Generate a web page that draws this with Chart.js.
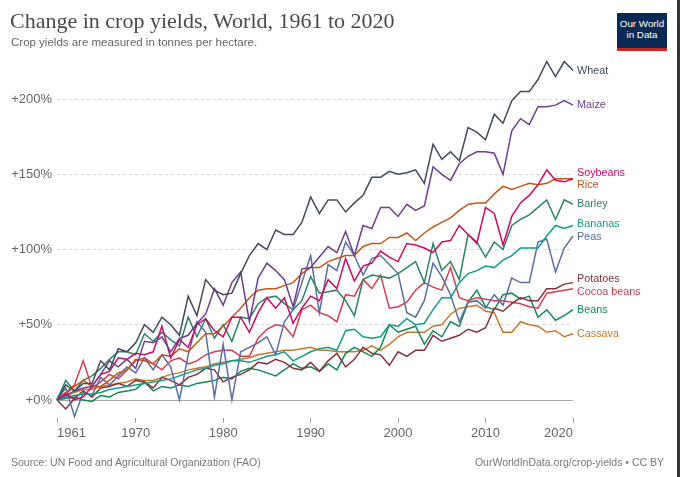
<!DOCTYPE html>
<html><head><meta charset="utf-8">
<script src="https://cdn.jsdelivr.net/npm/chart.js@4.4.1/dist/chart.umd.min.js"></script>
<style>
html,body{margin:0;padding:0;background:#fff;}
#wrap{position:relative;width:680px;height:477px;overflow:hidden;font-family:"Liberation Sans",Arial,sans-serif;}
#title{position:absolute;left:10px;top:8px;font-family:"Liberation Serif",serif;font-size:22px;color:#4a4a4a;white-space:nowrap;}
#sub{position:absolute;left:11px;top:36px;font-size:11.5px;color:#666;white-space:nowrap;}
#src{position:absolute;left:11px;top:456px;font-size:10.5px;color:#777;white-space:nowrap;}
#url{position:absolute;right:16px;top:456px;font-size:10.5px;color:#777;white-space:nowrap;}
#logo{position:absolute;left:617px;top:13px;width:50px;height:38px;background:#0b2a53;color:#fff;font-size:9.8px;line-height:10.5px;text-align:center;box-sizing:border-box;padding-top:6px;border-bottom:3px solid #ce261e;}
#edge{position:absolute;left:677px;top:0;width:3px;height:477px;background:#333;}
canvas{position:absolute;left:0;top:0;}
</style></head>
<body><div id="wrap">
<canvas id="c" width="680" height="477"></canvas>
<div id="title">Change in crop yields, World, 1961 to 2020</div>
<div id="sub">Crop yields are measured in tonnes per hectare.</div>
<div id="logo">Our World<br>in Data</div>
<div id="src">Source: UN Food and Agricultural Organization (FAO)</div>
<div id="url">OurWorldInData.org/crop-yields • CC BY</div>
<div id="edge"></div>
</div>
<script>
const years = [1961,1962,1963,1964,1965,1966,1967,1968,1969,1970,1971,1972,1973,1974,1975,1976,1977,1978,1979,1980,1981,1982,1983,1984,1985,1986,1987,1988,1989,1990,1991,1992,1993,1994,1995,1996,1997,1998,1999,2000,2001,2002,2003,2004,2005,2006,2007,2008,2009,2010,2011,2012,2013,2014,2015,2016,2017,2018,2019,2020];
const xTickYears = [1961,1970,1980,1990,2000,2010,2020];
const yTickValues = [0,50,100,150,200];

const wheat = [0,10,6,11,11,26,20,34,32,38, 50,45,55,50,43,69,56,80,73,70, 71,84,96,104,100,113,110,110,118,135, 124,133,133,125,131,136,148,148,152,150, 151,153,144,170,160,165,159,181,178,173, 190,184,199,205,205,213,225,215,225,219];
const maize = [0,3,6,8,9,17,26,22,27,21, 39,38,42,32,41,43,51,57,74,63, 78,85,52,81,91,86,80,62,87,88, 95,102,98,112,96,116,114,128,128,122, 130,126,129,155,150,146,157,162,165,165, 164,150,179,187,183,195,195,196,199,196];
const soybeans = [0,4,0,2,9,17,19,28,27,31, 30,32,49,28,40,35,50,54,46,42, 55,55,45,58,68,61,68,51,61,69, 66,80,74,94,79,89,91,99,95,92, 104,103,101,98,105,106,116,110,104,128, 124,103,122,131,136,143,153,146,145,147];
const rice = [0,4,9,13,9,9,13,18,20,27, 26,24,30,29,34,32,38,44,44,49, 55,61,68,73,74,74,76,78,84,88, 88,92,94,96,96,102,104,104,108,108, 111,106,111,115,118,121,126,130,131,131, 137,142,140,142,144,143,144,147,147,147];
const barley = [0,13,6,13,16,21,27,32,32,30, 44,39,45,40,36,55,42,54,41,50, 39,55,54,64,68,69,64,60,66,82, 71,72,73,66,56,80,83,82,81,84, 88,92,78,104,86,92,80,110,105,95, 105,100,116,120,123,128,133,120,133,130];
const bananas = [0,2,3,4,4,5,7,8,9,10, 11,12,13,14,16,18,20,21,23,24, 26,26,25,27,29,30,32,26,29,32, 34,35,33,46,47,42,41,42,50,49, 54,50,51,60,68,68,78,84,86,89, 88,93,96,101,101,101,109,116,114,116];
const peas = [0,8,-11,5,3,15,10,16,22,18, 28,20,30,22,0,30,52,45,2,37, 0,32,35,38,42,30,52,60,78,96, 58,90,86,105,96,83,94,96,90,84, 58,55,66,91,82,70,52,65,66,61, 70,63,81,78,78,105,107,85,101,109];
const potatoes = [0,-6,1,6,2,8,9,11,9,13, 12,8,15,13,10,15,17,21,20,12, 15,17,20,25,24,27,25,21,20,25, 19,26,31,22,27,35,31,30,23,32, 29,33,33,43,39,41,43,47,45,48, 61,59,64,68,66,66,74,74,77,78];
const cocoaBeans = [0,5,10,26,8,12,17,14,20,26, 28,24,20,26,28,24,26,30,32,33, 33,29,29,41,47,50,49,42,60,63, 58,56,52,70,69,80,74,83,61,62, 65,73,78,75,73,88,68,66,68,67, 66,66,65,64,62,61,71,72,73,74];
const beans = [0,1,2,0,-1,3,2,5,6,7, 12,6,9,8,10,9,11,12,13,15, 14,19,21,20,18,16,20,24,21,22, 19,24,20,31,35,32,29,35,50,45, 47,49,37,46,42,52,49,65,73,62, 60,70,71,67,69,55,60,53,56,60];
const cassava = [0,3,5,7,7,9,10,11,12,14, 13,13,15,17,18,20,21,22,24,25, 26,27,28,30,31,32,33,33,34,35, 33,33,32,32,32,33,36,33,37,42, 45,45,45,49,50,57,61,62,63,59, 58,45,45,52,50,49,45,46,42,44];

const seriesNames = ['Wheat','Maize','Soybeans','Rice','Barley','Bananas','Peas','Potatoes','Cocoa beans','Beans','Cassava'];
const seriesValues = [wheat,maize,soybeans,rice,barley,bananas,peas,potatoes,cocoaBeans,beans,cassava];
const seriesColors = ['#404b5c','#6d3e91','#cf0a66','#c05917','#2c8465','#109c8e','#5a6ea6','#883039','#d73c50','#138a55','#c8782e'];

const datasets = seriesNames.map((name,i)=>({
  label:name,
  data: years.map((yr,j)=>({x:yr,y:seriesValues[i][j]})),
  borderColor: seriesColors[i],
  backgroundColor: seriesColors[i],
  borderWidth: 1.5,
  pointRadius: 0,
  tension: 0,
  clip: false
}));

const zeroLine = {
  id:'zeroLine',
  beforeDatasetsDraw(chart){
    const {ctx, chartArea, scales} = chart;
    const y = Math.round(scales.y.getPixelForValue(0)) + 0.5;
    ctx.save();
    ctx.strokeStyle = '#a8a8a8';
    ctx.lineWidth = 1;
    ctx.beginPath(); ctx.moveTo(chartArea.left, y); ctx.lineTo(chartArea.right, y); ctx.stroke();
    ctx.restore();
  }
};

const endLabels = {
  id:'endLabels',
  afterDatasetsDraw(chart){
    const {ctx, chartArea} = chart;
    const items = chart.data.datasets.map((ds,i)=>{
      const meta = chart.getDatasetMeta(i);
      const pt = meta.data[meta.data.length-1];
      return {text: ds.label, color: ds.borderColor, y: pt.y};
    }).sort((a,b)=>a.y-b.y);
    const gap = 12.5;
    for (let iter=0; iter<50; iter++){
      let moved=false;
      for (let k=1;k<items.length;k++){
        const d = items[k].y - items[k-1].y;
        if (d < gap){
          const push = (gap-d)/2;
          items[k].y += push; items[k-1].y -= push; moved=true;
        }
      }
      if(!moved) break;
    }
    ctx.save();
    ctx.font = '10.8px "Liberation Sans", Arial, sans-serif';
    ctx.textBaseline = 'middle';
    ctx.textAlign = 'left';
    items.forEach(it=>{ ctx.fillStyle = it.color; ctx.fillText(it.text, chartArea.right + 4, it.y); });
    ctx.restore();
  }
};

new Chart(document.getElementById('c'), {
  type:'line',
  data:{datasets},
  plugins:[zeroLine, endLabels],
  options:{
    responsive:false,
    animation:false,
    devicePixelRatio:1,
    layout:{padding:{top:60,left:0,right:107,bottom:39}},
    plugins:{legend:{display:false}, tooltip:{enabled:false}},
    scales:{
      x:{
        type:'linear', min:1961, max:2020,
        afterBuildTicks(scale){ scale.ticks = xTickYears.map(v=>({value:v})); },
        afterFit(scale){ scale.height = 20; },
        grid:{drawOnChartArea:false, drawTicks:true, tickLength:5, tickColor:'#a0a0a0'},
        border:{display:false},
        ticks:{align:'inner', padding:3, color:'#666', font:{family:'"Liberation Sans", Arial, sans-serif', size:13}, maxRotation:0, autoSkip:false, callback:v=>String(v)}
      },
      y:{
        type:'linear', min:-12, max:226,
        afterBuildTicks(scale){ scale.ticks = yTickValues.map(v=>({value:v})); },
        afterFit(scale){ scale.width = 57; },
        grid:{color:ctx=> ctx.tick && ctx.tick.value===0 ? 'rgba(0,0,0,0)' : '#d6d6d6', drawTicks:false, lineWidth:1},
        border:{display:false, dash:[3,3]},
        ticks:{padding:5, color:'#666', font:{family:'"Liberation Sans", Arial, sans-serif', size:13}, callback:v=>'+'+v+'%'}
      }
    }
  }
});
</script>
</body></html>
